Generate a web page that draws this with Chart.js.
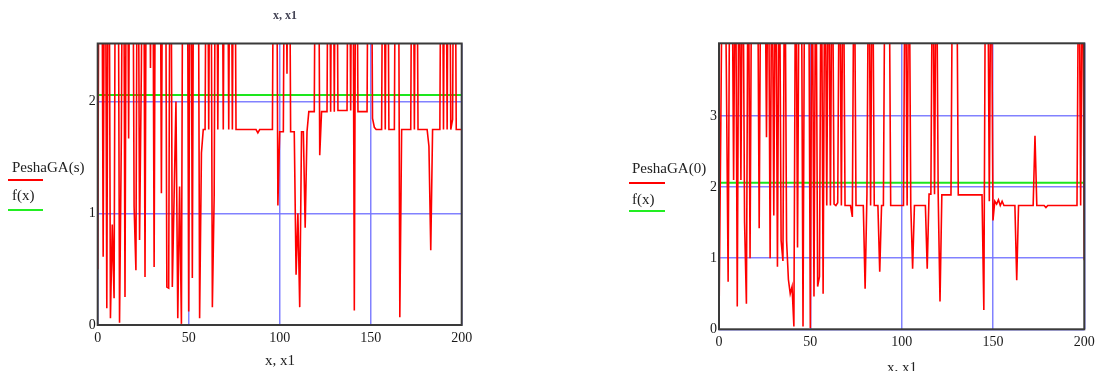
<!DOCTYPE html>
<html>
<head>
<meta charset="utf-8">
<script src="https://cdn.jsdelivr.net/npm/chart.js@4"></script>
<style>
    body { margin: 0; background: #fff; width: 1100px; height: 371px; overflow: hidden; position: relative; font-family: 'Liberation Serif', serif; color: #222; }
    .box { position: absolute; top: 0; height: 371px; }
    .txt { position: absolute; white-space: nowrap; line-height: 1; }
    .key { position: absolute; height: 0; }
</style>
</head>
<body>
<div class="box" style="left:0;width:480px"><canvas id="leftChart" width="480" height="371"></canvas></div>
<div class="box" style="left:600px;width:500px"><canvas id="rightChart" width="500" height="371"></canvas></div>

<div class="txt" style="left:273px;top:9px;font-size:12px;font-weight:bold;color:#445">x, x1</div>
<div class="txt" style="left:265px;top:353px;font-size:15px">x, x1</div>
<div class="txt" style="left:887px;top:360px;font-size:15px">x, x1</div>

<div class="txt" style="left:12px;top:160px;font-size:15px">PeshaGA(s)</div>
<div class="key" style="left:8px;top:179px;width:35px;border-top:2px solid #f00"></div>
<div class="txt" style="left:12px;top:188px;font-size:15px">f(x)</div>
<div class="key" style="left:8px;top:209px;width:35px;border-top:2px solid #2e2"></div>

<div class="txt" style="left:632px;top:161px;font-size:15px">PeshaGA(0)</div>
<div class="key" style="left:629px;top:182px;width:36px;border-top:2px solid #f00"></div>
<div class="txt" style="left:632px;top:192px;font-size:15px">f(x)</div>
<div class="key" style="left:629px;top:210px;width:36px;border-top:2px solid #2e2"></div>

<script>
// sample k of each series sits at x = k (0..200)
const peshaS = [
    0.5, 5, 5, 0.61, 5, 0.15, 5, 0.06, 0.9, 0.24,
    5, 5, 0.02, 1.69, 5, 0.25, 5, 1.67, 5, 5,
    1.06, 0.49, 5, 0.76, 2.3, 5, 0.43, 5, 5, 2.3,
    5, 0.52, 5, 5, 5, 1.18, 5, 5, 0.34, 0.33,
    5, 0.34, 1.16, 2.0, 0.06, 1.24, 0.01, 5, 5, 5,
    0.12, 5, 0.42, 5, 5, 5, 0.06, 1.54, 1.75, 1.75,
    5, 1.75, 5, 0.16, 1.16, 5, 1.75, 5, 5, 1.75,
    5, 5, 1.75, 5, 1.75, 5, 1.75, 1.75, 1.75, 1.75,
    1.75, 1.75, 1.75, 1.75, 1.75, 1.75, 1.75, 1.75, 1.72, 1.75,
    1.75, 1.75, 1.75, 1.75, 1.75, 1.75, 1.75, 5, 5, 1.07,
    1.73, 1.73, 1.73, 5, 2.25, 5, 1.73, 1.73, 1.73, 0.45,
    1.0, 0.16, 1.73, 1.73, 0.87, 1.73, 1.91, 1.91, 1.91, 1.91,
    5, 5, 1.52, 1.91, 1.91, 1.91, 1.91, 5, 1.91, 5,
    1.91, 5, 1.92, 1.92, 1.92, 1.92, 1.92, 1.92, 5, 1.92,
    5, 0.13, 5, 1.91, 1.91, 1.91, 1.91, 1.91, 1.91, 5,
    5, 1.85, 1.77, 1.75, 1.75, 1.75, 1.75, 5, 1.75, 5,
    1.75, 1.75, 1.75, 1.75, 5, 5, 0.07, 1.75, 1.75, 1.75,
    1.75, 1.75, 1.75, 5, 1.75, 5, 1.75, 1.75, 1.75, 1.75,
    1.75, 1.75, 1.6, 0.67, 1.75, 1.75, 1.75, 1.75, 1.75, 5,
    1.75, 5, 1.75, 5, 1.75, 1.84, 5, 1.75, 1.75, 1.75,
    1.75
];

const pesha0 = [
    0.1, 2.9, 6, 6, 3.7, 0.67, 6, 6, 2.1, 6,
    0.32, 6, 2.1, 6, 1.5, 0.36, 6, 1.0, 6, 6,
    6, 6, 1.42, 6, 6, 6, 2.7, 6, 1.0, 6,
    1.6, 6, 0.88, 6, 1.25, 0.96, 6, 1.25, 0.7, 0.5,
    0.6, 0.04, 6, 1.15, 6, 6, 0.04, 6, 6, 6,
    0.02, 6, 0.46, 6, 0.6, 0.74, 6, 0.5, 6, 1.74,
    6, 1.74, 6, 1.76, 1.74, 1.78, 6, 1.74, 6, 1.74,
    1.74, 1.74, 1.74, 1.58, 6, 1.74, 1.74, 1.74, 1.74, 1.74,
    0.57, 1.9, 6, 1.74, 6, 1.74, 1.74, 1.74, 0.81, 1.74,
    1.74, 6, 6, 6, 1.74, 1.74, 1.74, 1.74, 1.74, 1.74,
    1.74, 1.74, 6, 1.74, 6, 1.74, 0.85, 1.74, 1.74, 1.74,
    1.74, 1.74, 1.74, 1.74, 0.85, 1.9, 1.9, 6, 1.9, 6,
    1.9, 0.39, 1.89, 1.89, 1.89, 1.89, 1.89, 1.89, 6, 6,
    6, 1.89, 1.89, 1.89, 1.89, 1.89, 1.89, 1.89, 1.89, 1.89,
    1.89, 1.89, 1.89, 1.89, 1.89, 0.27, 6, 6, 1.8, 6,
    1.53, 1.8, 1.76, 1.82, 1.74, 1.8, 1.74, 1.74, 1.74, 1.74,
    1.74, 1.74, 1.74, 0.69, 1.74, 1.74, 1.74, 1.74, 1.74, 1.74,
    1.74, 1.74, 1.74, 2.72, 1.74, 1.74, 1.74, 1.74, 1.74, 1.71,
    1.74, 1.74, 1.74, 1.74, 1.74, 1.74, 1.74, 1.74, 1.74, 1.74,
    1.74, 1.74, 1.74, 1.74, 1.74, 1.74, 1.74, 6, 1.74, 6,
    0.97
];

// f(x) is a flat line across the range
const fEnds = [0, 200];
const fLeft = [2.06, 2.06];
const fRight = [2.06, 2.06];

const xTicks = [0, 50, 100, 150, 200];
const yTicksLeft = [0, 1, 2];
const yTicksRight = [0, 1, 2, 3];

const frame = {
    id: 'frame',
    afterDatasetsDraw(chart) {
        const a = chart.chartArea;
        const ctx = chart.ctx;
        ctx.save();
        ctx.strokeStyle = '#3a3a3a';
        ctx.lineWidth = 2;
        ctx.strokeRect(a.left, a.top, a.right - a.left, a.bottom - a.top);
        ctx.restore();
    }
};

function makeChart(id, values, fValues, yMax, yTicks, dims) {
    const tickFont = { family: "'Liberation Serif', serif", size: 14 };
    return new Chart(document.getElementById(id), {
        type: 'line',
        data: {
            datasets: [{
                data: values.map((v, k) => ({ x: k, y: v })),
                borderColor: 'rgb(255,0,0)',
                borderWidth: 1.6,
                pointRadius: 0,
                tension: 0
            }, {
                data: fValues.map((v, k) => ({ x: fEnds[k], y: v })),
                borderColor: 'rgb(30,230,30)',
                borderWidth: 2,
                pointRadius: 0
            }]
        },
        options: {
            responsive: false,
            animation: false,
            layout: { padding: { top: dims.top, right: dims.right, left: 0, bottom: 0 } },
            plugins: { legend: { display: false }, tooltip: { enabled: false } },
            scales: {
                x: {
                    type: 'linear',
                    min: 0,
                    max: 200,
                    afterBuildTicks: s => { s.ticks = xTicks.map(v => ({ value: v })); },
                    afterFit: s => { s.height = dims.xh; },
                    grid: { color: 'rgba(115,115,255,0.9)', lineWidth: 1.5, drawTicks: false },
                    border: { display: false },
                    ticks: { font: tickFont, color: '#1a1a1a', padding: 5, maxRotation: 0 }
                },
                y: {
                    min: 0,
                    max: yMax,
                    afterBuildTicks: s => { s.ticks = yTicks.map(v => ({ value: v })); },
                    afterFit: s => { s.width = dims.yw; },
                    grid: { color: 'rgba(115,115,255,0.9)', lineWidth: 1.5, drawTicks: false },
                    border: { display: false },
                    ticks: { font: tickFont, color: '#1a1a1a', padding: 2 }
                }
            }
        },
        plugins: [frame]
    });
}

makeChart('leftChart', peshaS, fLeft, 2.52, yTicksLeft, { top: 43.5, right: 18.3, xh: 46, yw: 97.7 });
makeChart('rightChart', pesha0, fRight, 4.02, yTicksRight, { top: 43.3, right: 15.7, xh: 41.7, yw: 119 });
</script>
</body>
</html>
